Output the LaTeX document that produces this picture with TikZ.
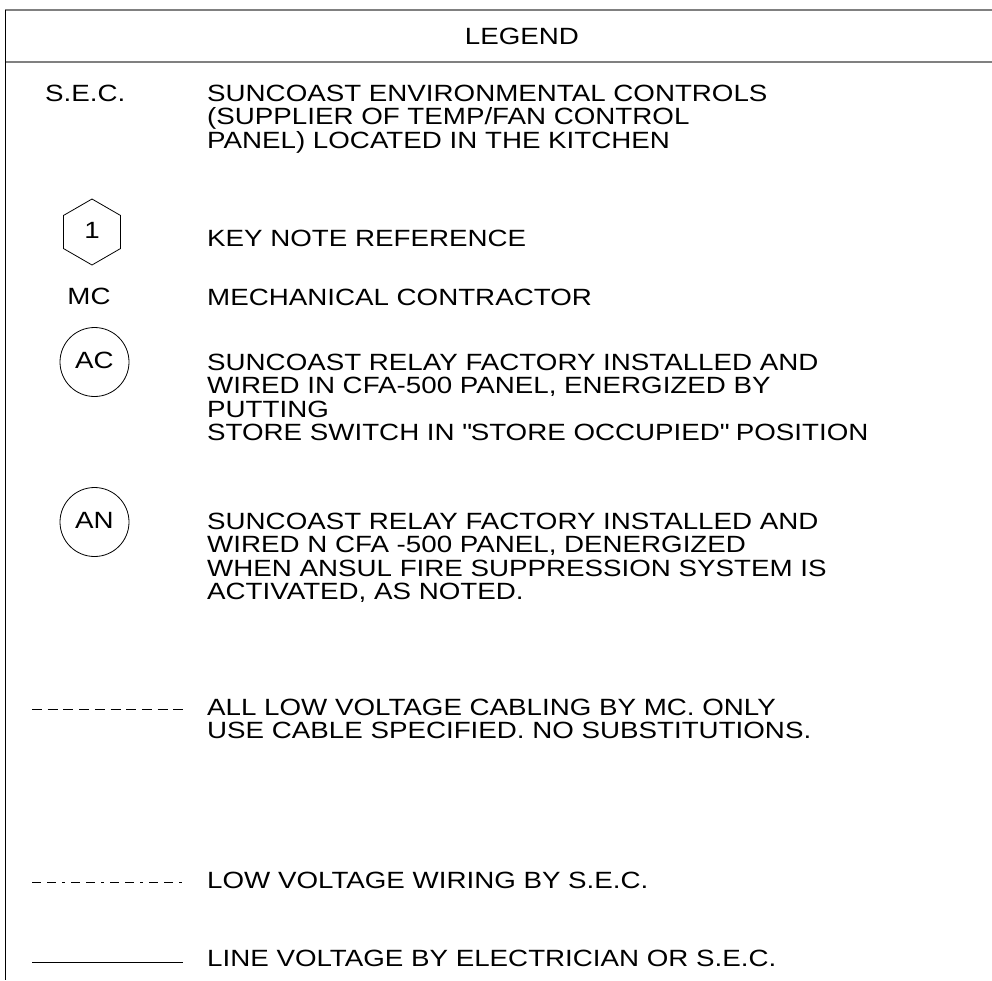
\documentclass[tikz,border=0pt]{standalone}
\usepackage{fontspec}
\setmainfont{Liberation Sans}[FakeStretch=1.18]
\usepackage{tikz}
\usetikzlibrary{shapes.geometric}

\begin{document}
\begin{tikzpicture}[x=1pt, y=-1pt,
    legendfont/.style={font=\fontsize{23.5}{23.5}\selectfont},
    entry/.style={legendfont, anchor=base west, align=left, inner sep=0pt},
    tag/.style={legendfont, inner sep=0pt},
    sample/.style={line width=1pt, black}]
    \useasboundingbox (0,0) rectangle (992,980);
    % frame of the legend table
    \draw[line width=1.6pt, gray] (5,10) -- (992,10);
    \draw[line width=1.6pt, gray] (5,62) -- (992,62);
    \draw[line width=1pt] (5,10) -- (5,980);
    \node[tag] (title) at (522,36) {LEGEND};

    % S.E.C.
    \node[entry] (secTag) at (45,101.4) {S.E.C.};
    \node[entry] (secText) at (207,148.4)
      {SUNCOAST ENVIRONMENTAL CONTROLS\\ (SUPPLIER OF TEMP/FAN CONTROL\\ PANEL) LOCATED IN THE KITCHEN};

    % key note
    \node[tag, draw, line width=0.8pt, regular polygon, regular polygon sides=6,
      shape border rotate=30, minimum size=66pt] (keyHex) at (92,232) {};
    \node[tag] (keyNum) at (92,230) {1};
    \node[entry] (keyText) at (207,246.4) {KEY NOTE REFERENCE};

    % MC
    \node[tag] (mcTag) at (89,296) {MC};
    \node[entry] (mcText) at (207,305.4) {MECHANICAL CONTRACTOR};

    % AC relay
    \node[tag, draw, line width=0.8pt, circle, minimum size=69pt] (acCircle) at (94.5,362) {};
    \node[tag] (acTag) at (94.5,360) {AC};
    \node[entry] (acText) at (207,440.9)
      {SUNCOAST RELAY FACTORY INSTALLED AND\\ WIRED IN CFA-500 PANEL, ENERGIZED BY\\ PUTTING\\
       STORE SWITCH IN \textquotedbl STORE OCCUPIED\textquotedbl{} POSITION};

    % AN relay
    \node[tag, draw, line width=0.8pt, circle, minimum size=69pt] (anCircle) at (94.5,522) {};
    \node[tag] (anTag) at (94.5,520) {AN};
    \node[entry] (anText) at (207,599.9)
      {SUNCOAST RELAY FACTORY INSTALLED AND\\ WIRED N CFA -500 PANEL, DENERGIZED\\
       WHEN ANSUL FIRE SUPPRESSION SYSTEM IS\\ ACTIVATED, AS NOTED.};

    % line types
    \coordinate (cablingA) at (32,709);
    \coordinate (cablingB) at (183,709);
    \draw[sample, dash pattern=on 10pt off 5.7pt] (cablingA) -- (cablingB);
    \node[entry] (cablingText) at (207,738.9)
      {ALL LOW VOLTAGE CABLING BY MC. ONLY\\ USE CABLE SPECIFIED. NO SUBSTITUTIONS.};

    \coordinate (wiringA) at (32,882);
    \coordinate (wiringB) at (183,882);
    \draw[sample, dash pattern=on 9pt off 6pt on 9pt off 6pt on 3pt off 6pt] (wiringA) -- (wiringB);
    \node[entry] (wiringText) at (207,888.4) {LOW VOLTAGE WIRING BY S.E.C.};

    \coordinate (lineA) at (32,962);
    \coordinate (lineB) at (183,962);
    \draw[sample] (lineA) -- (lineB);
    \node[entry] (lineText) at (207,966.4) {LINE VOLTAGE BY ELECTRICIAN OR S.E.C.};
\end{tikzpicture}
\end{document}
